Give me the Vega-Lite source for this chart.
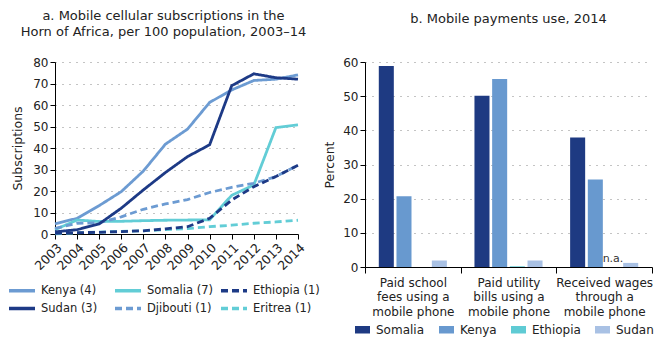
{
  "$schema": "https://vega.github.io/schema/vega-lite/v6.json",
  "padding": {"left": 7, "top": 10, "right": 5, "bottom": 5},
  "spacing": 3,
  "resolve": {"scale": {"color": "independent", "strokeDash": "independent"}, "legend": {"color": "independent"}},
  "datasets": {
    "lines": [
      {"country": "Kenya (4)", "year": 2003, "value": 4.7},
      {"country": "Kenya (4)", "year": 2004, "value": 7.3},
      {"country": "Kenya (4)", "year": 2005, "value": 13.2},
      {"country": "Kenya (4)", "year": 2006, "value": 19.7},
      {"country": "Kenya (4)", "year": 2007, "value": 29.3},
      {"country": "Kenya (4)", "year": 2008, "value": 41.8},
      {"country": "Kenya (4)", "year": 2009, "value": 48.8},
      {"country": "Kenya (4)", "year": 2010, "value": 61.2},
      {"country": "Kenya (4)", "year": 2011, "value": 67},
      {"country": "Kenya (4)", "year": 2012, "value": 71.4},
      {"country": "Kenya (4)", "year": 2013, "value": 72},
      {"country": "Kenya (4)", "year": 2014, "value": 74},
      {"country": "Somalia (7)", "year": 2003, "value": 2},
      {"country": "Somalia (7)", "year": 2004, "value": 6.5},
      {"country": "Somalia (7)", "year": 2005, "value": 5.8},
      {"country": "Somalia (7)", "year": 2006, "value": 5.9},
      {"country": "Somalia (7)", "year": 2007, "value": 6.2},
      {"country": "Somalia (7)", "year": 2008, "value": 6.4},
      {"country": "Somalia (7)", "year": 2009, "value": 6.5},
      {"country": "Somalia (7)", "year": 2010, "value": 6.6},
      {"country": "Somalia (7)", "year": 2011, "value": 18},
      {"country": "Somalia (7)", "year": 2012, "value": 22.8},
      {"country": "Somalia (7)", "year": 2013, "value": 49.5},
      {"country": "Somalia (7)", "year": 2014, "value": 50.8},
      {"country": "Eritrea (1)", "year": 2003, "value": 0.1},
      {"country": "Eritrea (1)", "year": 2004, "value": 0.5},
      {"country": "Eritrea (1)", "year": 2005, "value": 0.9},
      {"country": "Eritrea (1)", "year": 2006, "value": 1.2},
      {"country": "Eritrea (1)", "year": 2007, "value": 1.5},
      {"country": "Eritrea (1)", "year": 2008, "value": 2},
      {"country": "Eritrea (1)", "year": 2009, "value": 2.5},
      {"country": "Eritrea (1)", "year": 2010, "value": 3.4},
      {"country": "Eritrea (1)", "year": 2011, "value": 4.1},
      {"country": "Eritrea (1)", "year": 2012, "value": 5},
      {"country": "Eritrea (1)", "year": 2013, "value": 5.6},
      {"country": "Eritrea (1)", "year": 2014, "value": 6.4},
      {"country": "Djibouti (1)", "year": 2003, "value": 2.6},
      {"country": "Djibouti (1)", "year": 2004, "value": 5},
      {"country": "Djibouti (1)", "year": 2005, "value": 5.2},
      {"country": "Djibouti (1)", "year": 2006, "value": 8},
      {"country": "Djibouti (1)", "year": 2007, "value": 11.5},
      {"country": "Djibouti (1)", "year": 2008, "value": 14},
      {"country": "Djibouti (1)", "year": 2009, "value": 16},
      {"country": "Djibouti (1)", "year": 2010, "value": 19.3},
      {"country": "Djibouti (1)", "year": 2011, "value": 21.7},
      {"country": "Djibouti (1)", "year": 2012, "value": 23.6},
      {"country": "Djibouti (1)", "year": 2013, "value": 26.7},
      {"country": "Djibouti (1)", "year": 2014, "value": 32},
      {"country": "Ethiopia (1)", "year": 2003, "value": 0.3},
      {"country": "Ethiopia (1)", "year": 2004, "value": 0.6},
      {"country": "Ethiopia (1)", "year": 2005, "value": 0.8},
      {"country": "Ethiopia (1)", "year": 2006, "value": 1.1},
      {"country": "Ethiopia (1)", "year": 2007, "value": 1.5},
      {"country": "Ethiopia (1)", "year": 2008, "value": 2.4},
      {"country": "Ethiopia (1)", "year": 2009, "value": 3.4},
      {"country": "Ethiopia (1)", "year": 2010, "value": 7.3},
      {"country": "Ethiopia (1)", "year": 2011, "value": 15.8},
      {"country": "Ethiopia (1)", "year": 2012, "value": 22},
      {"country": "Ethiopia (1)", "year": 2013, "value": 26.7},
      {"country": "Ethiopia (1)", "year": 2014, "value": 32},
      {"country": "Sudan (3)", "year": 2003, "value": 1},
      {"country": "Sudan (3)", "year": 2004, "value": 2},
      {"country": "Sudan (3)", "year": 2005, "value": 4.7},
      {"country": "Sudan (3)", "year": 2006, "value": 12},
      {"country": "Sudan (3)", "year": 2007, "value": 20.5},
      {"country": "Sudan (3)", "year": 2008, "value": 28.6},
      {"country": "Sudan (3)", "year": 2009, "value": 36},
      {"country": "Sudan (3)", "year": 2010, "value": 41.5},
      {"country": "Sudan (3)", "year": 2011, "value": 69},
      {"country": "Sudan (3)", "year": 2012, "value": 74.5},
      {"country": "Sudan (3)", "year": 2013, "value": 72.7},
      {"country": "Sudan (3)", "year": 2014, "value": 72}
    ],
    "bars": [
      {"use": "Paid school fees using a mobile phone", "country": "Somalia", "value": 58.8, "note": ""},
      {"use": "Paid school fees using a mobile phone", "country": "Kenya", "value": 20.7, "note": ""},
      {"use": "Paid school fees using a mobile phone", "country": "Ethiopia", "value": 0, "note": ""},
      {"use": "Paid school fees using a mobile phone", "country": "Sudan", "value": 1.9, "note": ""},
      {"use": "Paid utility bills using a mobile phone", "country": "Somalia", "value": 50.1, "note": ""},
      {"use": "Paid utility bills using a mobile phone", "country": "Kenya", "value": 55, "note": ""},
      {"use": "Paid utility bills using a mobile phone", "country": "Ethiopia", "value": 0.2, "note": ""},
      {"use": "Paid utility bills using a mobile phone", "country": "Sudan", "value": 1.9, "note": ""},
      {"use": "Received wages through a mobile phone", "country": "Somalia", "value": 37.9, "note": ""},
      {"use": "Received wages through a mobile phone", "country": "Kenya", "value": 25.6, "note": ""},
      {"use": "Received wages through a mobile phone", "country": "Ethiopia", "value": 0, "note": "n.a."},
      {"use": "Received wages through a mobile phone", "country": "Sudan", "value": 1.2, "note": ""}
    ]
  },
  "hconcat": [
    {
      "width": 243,
      "height": 172,
      "title": {
        "text": ["a. Mobile cellular subscriptions in the", "Horn of Africa, per 100 population, 2003–14"],
        "frame": "bounds",
        "anchor": "middle",
        "offset": 17,
        "lineHeight": 16
      },
      "data": {"name": "lines"},
      "mark": {"type": "line", "strokeWidth": 2.8},
      "encoding": {
        "x": {
          "field": "year",
          "type": "ordinal",
          "scale": {"padding": 0},
          "axis": {"title": null, "labelAngle": -45, "grid": false, "tickSize": 5, "labelPadding": 2, "labelFontSize": 12.5}
        },
        "y": {
          "field": "value",
          "type": "quantitative",
          "scale": {"domain": [0, 80]},
          "axis": {"title": "Subscriptions", "values": [0, 10, 20, 30, 40, 50, 60, 70, 80], "tickSize": 5, "titlePadding": 8}
        },
        "color": {
          "field": "country",
          "type": "nominal",
          "title": null,
          "scale": {
            "domain": ["Kenya (4)", "Sudan (3)", "Somalia (7)", "Djibouti (1)", "Ethiopia (1)", "Eritrea (1)"],
            "range": ["#6c9bd2", "#1d3a86", "#62cdd6", "#6c9bd2", "#1d3a86", "#62cdd6"]
          },
          "legend": {
            "orient": "none",
            "legendX": -48,
            "legendY": 220,
            "columns": 3,
            "gridAlign": "all",
            "columnPadding": 0,
            "rowPadding": 2,
            "symbolType": "M-1,0H3",
            "symbolSize": 169,
            "symbolStrokeWidth": 3.5,
            "labelFontSize": 11.5,
            "labelOffset": 17
          }
        },
        "strokeDash": {
          "field": "country",
          "type": "nominal",
          "title": null,
          "scale": {
            "domain": ["Kenya (4)", "Sudan (3)", "Somalia (7)", "Djibouti (1)", "Ethiopia (1)", "Eritrea (1)"],
            "range": [[1, 0], [1, 0], [1, 0], [7, 4], [7, 4], [7, 4]]
          }
        }
      }
    },
    {
      "width": 287,
      "height": 205,
      "title": {
        "text": "b. Mobile payments use, 2014",
        "anchor": "middle",
        "offset": 26
      },
      "data": {"name": "bars"},
      "encoding": {
        "x": {
          "field": "use",
          "type": "nominal",
          "sort": null,
          "scale": {
            "domain": ["Paid school fees using a mobile phone", "Paid utility bills using a mobile phone", "Received wages through a mobile phone"],
            "paddingInner": 0,
            "paddingOuter": 0
          },
          "axis": {
            "title": null,
            "labelAngle": 0,
            "tickBand": "extent",
            "tickSize": 6,
            "labelPadding": 4,
            "labelFontSize": 12,
            "labelLineHeight": 14.5,
            "labelExpr": "datum.value == 'Paid school fees using a mobile phone' ? ['Paid school', 'fees using a', 'mobile phone'] : datum.value == 'Paid utility bills using a mobile phone' ? ['Paid utility', 'bills using a', 'mobile phone'] : datum.value == 'Received wages through a mobile phone' ? ['Received wages', 'through a', 'mobile phone'] : ''"
          }
        },
        "xOffset": {
          "field": "country",
          "type": "nominal",
          "scale": {"domain": ["Somalia", "Kenya", "Ethiopia", "Sudan"], "paddingInner": 0.15, "paddingOuter": 0.78}
        },
        "y": {
          "field": "value",
          "type": "quantitative",
          "scale": {"domain": [0, 60]},
          "axis": {"title": "Percent", "values": [0, 10, 20, 30, 40, 50, 60], "tickSize": 5, "titlePadding": 6}
        }
      },
      "layer": [
        {
          "mark": {"type": "bar"},
          "encoding": {
            "color": {
              "field": "country",
              "type": "nominal",
              "title": null,
              "scale": {
                "domain": ["Somalia", "Kenya", "Ethiopia", "Sudan"],
                "range": ["#1e3a82", "#6899cf", "#5fcbd4", "#a9c1e4"]
              },
              "legend": {
                "orient": "none",
                "direction": "horizontal",
                "legendX": -10,
                "legendY": 260,
                "columnPadding": 14,
                "symbolType": "M-1,-0.5H1V0.5H-1Z",
                "symbolSize": 225,
                "symbolStrokeWidth": 0,
                "labelFontSize": 12,
                "labelOffset": 6
              }
            }
          }
        },
        {
          "mark": {"type": "text", "dy": -8, "fontSize": 11, "color": "#333"},
          "encoding": {
            "text": {"field": "note"}
          }
        }
      ]
    }
  ],
  "config": {
    "font": "DejaVu Sans",
    "view": {"stroke": null},
    "title": {"fontSize": 13, "fontWeight": "normal", "color": "#222"},
    "axis": {
      "domainColor": "#000",
      "tickColor": "#000",
      "labelColor": "#222",
      "titleColor": "#222",
      "labelFontSize": 12,
      "titleFontSize": 12.5,
      "titleFontWeight": "normal",
      "gridColor": "#888",
      "gridDash": [1, 6],
      "gridWidth": 1
    },
    "legend": {"labelColor": "#222", "padding": 0}
  }
}
